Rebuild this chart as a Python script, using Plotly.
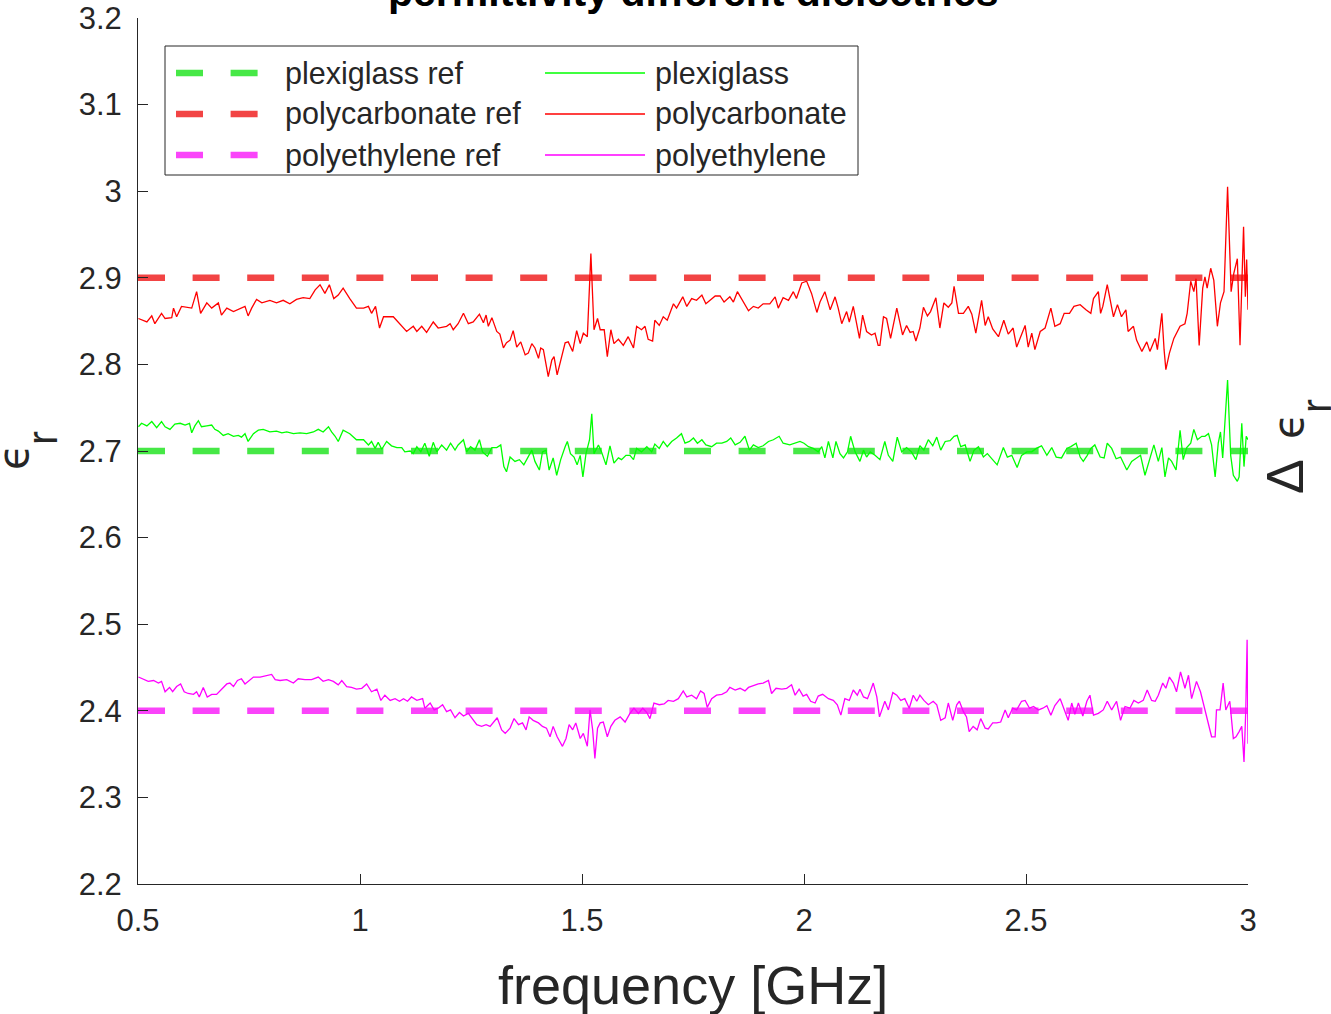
import plotly.graph_objects as go

# ---------------- data ----------------
freq_polycarbonate = [
    0.501, 0.520, 0.531, 0.538, 0.553, 0.561, 0.576, 0.580, 0.587, 0.598, 0.621, 0.632, 0.641, 0.655, 0.666,
    0.681, 0.688, 0.700, 0.715, 0.730, 0.741, 0.748, 0.756, 0.767, 0.779, 0.797, 0.812, 0.827, 0.842, 0.857,
    0.872, 0.887, 0.899, 0.910, 0.921, 0.931, 0.941, 0.951, 0.962, 0.977, 0.992, 1.008, 1.019, 1.026, 1.035,
    1.044, 1.053, 1.075, 1.090, 1.105, 1.120, 1.128, 1.139, 1.150, 1.165, 1.176, 1.195, 1.203, 1.210, 1.221,
    1.233, 1.244, 1.255, 1.269, 1.278, 1.284, 1.289, 1.297, 1.308, 1.315, 1.323, 1.330, 1.338,
    1.345, 1.353, 1.362, 1.372, 1.379, 1.387, 1.394, 1.402, 1.407, 1.413, 1.424, 1.432, 1.437, 1.444, 1.452,
    1.462, 1.469, 1.479, 1.488, 1.496, 1.503, 1.512, 1.520, 1.523, 1.527, 1.535, 1.541, 1.550, 1.557, 1.565,
    1.572, 1.582, 1.593, 1.604, 1.616, 1.623, 1.634, 1.642, 1.649, 1.659, 1.664, 1.674, 1.683, 1.692, 1.706,
    1.713, 1.727, 1.736, 1.747, 1.758, 1.770, 1.779, 1.788, 1.800, 1.811, 1.820, 1.833, 1.841, 1.850, 1.862,
    1.875, 1.886, 1.897, 1.908, 1.923, 1.935, 1.942, 1.953, 1.965, 1.976, 1.983, 1.995, 2.006, 2.017, 2.029,
    2.036, 2.047, 2.059, 2.070, 2.077, 2.085, 2.096, 2.102, 2.111, 2.125, 2.132, 2.141, 2.152, 2.160, 2.167,
    2.171, 2.179, 2.186, 2.195, 2.209, 2.222, 2.231, 2.239, 2.246, 2.252, 2.261, 2.269, 2.278, 2.285, 2.297,
    2.306, 2.315, 2.325, 2.333, 2.338, 2.348, 2.359, 2.370, 2.378, 2.387, 2.400, 2.408, 2.415, 2.425, 2.438,
    2.450, 2.460, 2.471, 2.479, 2.486, 2.498, 2.505, 2.513, 2.520, 2.532, 2.543, 2.556, 2.565, 2.577, 2.586,
    2.598, 2.608, 2.622, 2.635, 2.646, 2.652, 2.663, 2.668, 2.673, 2.683, 2.697, 2.706, 2.715, 2.725, 2.730,
    2.742, 2.749, 2.761, 2.772, 2.779, 2.791, 2.796, 2.806, 2.811, 2.815, 2.823, 2.833, 2.847, 2.858, 2.863,
    2.871, 2.878, 2.883, 2.890, 2.898, 2.903, 2.908, 2.916, 2.923, 2.931, 2.938, 2.946, 2.954, 2.962, 2.968,
    2.976, 2.982, 2.990, 2.994, 2.997, 3.000,
]
eps_polycarbonate = [
    2.853, 2.849, 2.856, 2.847, 2.859, 2.853, 2.854, 2.865, 2.855, 2.867, 2.865, 2.884, 2.859, 2.871, 2.865,
    2.871, 2.857, 2.865, 2.861, 2.864, 2.867, 2.856, 2.865, 2.875, 2.871, 2.874, 2.871, 2.874, 2.870, 2.875,
    2.877, 2.876, 2.886, 2.892, 2.882, 2.892, 2.876, 2.880, 2.888, 2.876, 2.865, 2.865, 2.867, 2.859, 2.867,
    2.842, 2.855, 2.855, 2.847, 2.838, 2.844, 2.838, 2.844, 2.837, 2.849, 2.842, 2.844, 2.847, 2.840, 2.847,
    2.859, 2.847, 2.849, 2.858, 2.848, 2.857, 2.844, 2.854, 2.838, 2.835, 2.819, 2.825, 2.828,
    2.839, 2.820, 2.826, 2.811, 2.813, 2.824, 2.819, 2.807, 2.819, 2.817, 2.786, 2.805, 2.809, 2.788, 2.803,
    2.825, 2.826, 2.815, 2.839, 2.824, 2.836, 2.832, 2.928, 2.897, 2.840, 2.853, 2.840, 2.840, 2.809, 2.840,
    2.824, 2.829, 2.822, 2.832, 2.819, 2.844, 2.840, 2.844, 2.829, 2.827, 2.851, 2.845, 2.855, 2.851, 2.870,
    2.865, 2.878, 2.867, 2.876, 2.874, 2.880, 2.870, 2.874, 2.879, 2.879, 2.872, 2.878, 2.872, 2.884, 2.874,
    2.862, 2.867, 2.865, 2.870, 2.870, 2.878, 2.865, 2.877, 2.874, 2.884, 2.876, 2.894, 2.896, 2.882, 2.860,
    2.872, 2.884, 2.863, 2.878, 2.865, 2.847, 2.861, 2.849, 2.867, 2.830, 2.857, 2.838, 2.834, 2.836, 2.822,
    2.822, 2.855, 2.853, 2.830, 2.865, 2.834, 2.845, 2.837, 2.838, 2.827, 2.842, 2.866, 2.856, 2.861, 2.877,
    2.842, 2.871, 2.866, 2.871, 2.890, 2.859, 2.859, 2.867, 2.858, 2.836, 2.874, 2.845, 2.855, 2.841, 2.832,
    2.851, 2.835, 2.842, 2.820, 2.830, 2.845, 2.820, 2.836, 2.817, 2.838, 2.842, 2.865, 2.844, 2.847, 2.859,
    2.859, 2.867, 2.869, 2.863, 2.859, 2.876, 2.884, 2.859, 2.867, 2.892, 2.855, 2.869, 2.855, 2.863, 2.838,
    2.844, 2.828, 2.815, 2.826, 2.815, 2.830, 2.817, 2.859, 2.817, 2.794, 2.813, 2.830, 2.844, 2.847, 2.859,
    2.896, 2.884, 2.899, 2.822, 2.888, 2.901, 2.888, 2.911, 2.897, 2.844, 2.871, 2.884, 3.005, 2.884, 2.905,
    2.922, 2.822, 2.959, 2.878, 2.921, 2.863,
]

freq_plexiglass = [
    0.501, 0.508, 0.520, 0.531, 0.542, 0.553, 0.561, 0.572, 0.583, 0.595, 0.606, 0.616, 0.621, 0.628, 0.636,
    0.643, 0.655, 0.666, 0.673, 0.681, 0.692, 0.703, 0.715, 0.726, 0.733, 0.741, 0.748, 0.760, 0.771, 0.782,
    0.797, 0.812, 0.824, 0.835, 0.850, 0.865, 0.880, 0.895, 0.906, 0.917, 0.929, 0.936, 0.944, 0.951, 0.962,
    0.977, 0.992, 1.008, 1.019, 1.026, 1.034, 1.041, 1.049, 1.060, 1.071, 1.083, 1.094, 1.101, 1.113, 1.120,
    1.128, 1.137, 1.146, 1.156, 1.165, 1.173, 1.184, 1.195, 1.204, 1.214, 1.221, 1.233, 1.240, 1.249, 1.259,
    1.269, 1.276, 1.287, 1.297, 1.308, 1.317, 1.324, 1.330, 1.338,
    1.349, 1.359, 1.369, 1.379, 1.387, 1.394, 1.404, 1.411, 1.419, 1.426, 1.435, 1.443, 1.452, 1.462, 1.467,
    1.474, 1.482, 1.489, 1.496, 1.502, 1.509, 1.517, 1.522, 1.527, 1.537, 1.544, 1.554, 1.563, 1.572, 1.582,
    1.589, 1.599, 1.608, 1.616, 1.623, 1.634, 1.646, 1.657, 1.664, 1.674, 1.683, 1.692, 1.702, 1.713, 1.724,
    1.732, 1.742, 1.751, 1.760, 1.770, 1.779, 1.792, 1.803, 1.815, 1.826, 1.835, 1.845, 1.856, 1.867, 1.877,
    1.886, 1.897, 1.908, 1.920, 1.931, 1.944, 1.953, 1.968, 1.980, 1.991, 2.000, 2.010, 2.021, 2.032, 2.040,
    2.047, 2.055, 2.065, 2.072, 2.081, 2.089, 2.098, 2.105, 2.115, 2.126, 2.134, 2.141, 2.149, 2.160, 2.167,
    2.171, 2.182, 2.190, 2.200, 2.210, 2.220, 2.231, 2.242, 2.252, 2.261, 2.270, 2.280, 2.290, 2.299, 2.308,
    2.318, 2.329, 2.338, 2.345, 2.353, 2.363, 2.374, 2.383, 2.393, 2.404, 2.413, 2.425, 2.435, 2.449, 2.458,
    2.468, 2.480, 2.490, 2.502, 2.513, 2.523, 2.535, 2.547, 2.558, 2.568, 2.580, 2.592, 2.601, 2.613, 2.622,
    2.629, 2.638, 2.646, 2.655, 2.667, 2.676, 2.683, 2.693, 2.703, 2.713, 2.727, 2.738, 2.749, 2.758, 2.768,
    2.779, 2.788, 2.798, 2.806, 2.813, 2.821, 2.828, 2.838, 2.847, 2.854, 2.862, 2.871, 2.878, 2.886, 2.896,
    2.903, 2.911, 2.918, 2.926, 2.933, 2.938, 2.943, 2.954, 2.961, 2.967, 2.976, 2.980, 2.986, 2.991, 2.996,
    3.000,
]
eps_plexiglass = [
    2.728, 2.732, 2.729, 2.734, 2.727, 2.734, 2.728, 2.725, 2.731, 2.732, 2.730, 2.732, 2.721, 2.729, 2.735,
    2.728, 2.729, 2.730, 2.725, 2.723, 2.718, 2.720, 2.717, 2.718, 2.716, 2.720, 2.711, 2.720, 2.724, 2.725,
    2.722, 2.723, 2.721, 2.722, 2.720, 2.721, 2.720, 2.722, 2.725, 2.722, 2.728, 2.722, 2.717, 2.711, 2.724,
    2.720, 2.713, 2.713, 2.707, 2.711, 2.703, 2.710, 2.702, 2.711, 2.706, 2.704, 2.704, 2.699, 2.700, 2.697,
    2.705, 2.699, 2.709, 2.694, 2.710, 2.699, 2.707, 2.701, 2.709, 2.701, 2.707, 2.713, 2.699, 2.705, 2.701,
    2.713, 2.699, 2.694, 2.704, 2.704, 2.707, 2.682, 2.676, 2.693,
    2.688, 2.690, 2.684, 2.693, 2.701, 2.688, 2.678, 2.699, 2.701, 2.678, 2.692, 2.672, 2.690, 2.705, 2.711,
    2.697, 2.693, 2.684, 2.695, 2.670, 2.697, 2.713, 2.743, 2.697, 2.707, 2.699, 2.684, 2.706, 2.686, 2.692,
    2.690, 2.695, 2.695, 2.690, 2.703, 2.699, 2.705, 2.699, 2.708, 2.703, 2.711, 2.705, 2.711, 2.715, 2.720,
    2.709, 2.711, 2.715, 2.709, 2.713, 2.707, 2.705, 2.709, 2.709, 2.711, 2.715, 2.707, 2.710, 2.717, 2.701,
    2.707, 2.704, 2.706, 2.711, 2.713, 2.717, 2.709, 2.707, 2.709, 2.711, 2.709, 2.705, 2.703, 2.699, 2.705,
    2.692, 2.711, 2.692, 2.711, 2.697, 2.692, 2.699, 2.717, 2.699, 2.688, 2.701, 2.693, 2.699, 2.695, 2.692,
    2.690, 2.711, 2.695, 2.688, 2.716, 2.699, 2.704, 2.699, 2.690, 2.706, 2.701, 2.713, 2.706, 2.716, 2.701,
    2.711, 2.712, 2.717, 2.718, 2.705, 2.707, 2.688, 2.701, 2.705, 2.693, 2.697, 2.690, 2.684, 2.704, 2.693,
    2.695, 2.681, 2.695, 2.699, 2.699, 2.703, 2.706, 2.695, 2.704, 2.693, 2.692, 2.703, 2.705, 2.709, 2.693,
    2.688, 2.695, 2.703, 2.707, 2.693, 2.692, 2.709, 2.703, 2.691, 2.693, 2.678, 2.688, 2.692, 2.695, 2.672,
    2.693, 2.707, 2.688, 2.704, 2.670, 2.692, 2.688, 2.678, 2.724, 2.690, 2.704, 2.709, 2.725, 2.713, 2.717,
    2.717, 2.720, 2.707, 2.670, 2.709, 2.722, 2.692, 2.782, 2.695, 2.672, 2.665, 2.670, 2.732, 2.682, 2.717,
    2.713,
]

freq_polyethylene = [
    0.501, 0.512, 0.523, 0.535, 0.546, 0.553, 0.561, 0.571, 0.578, 0.587, 0.596, 0.604, 0.613, 0.625, 0.632,
    0.638, 0.647, 0.656, 0.666, 0.677, 0.688, 0.700, 0.707, 0.715, 0.724, 0.733, 0.741, 0.751, 0.760, 0.775,
    0.786, 0.801, 0.809, 0.820, 0.835, 0.850, 0.861, 0.876, 0.891, 0.906, 0.917, 0.929, 0.940, 0.951, 0.959,
    0.970, 0.981, 0.992, 1.004, 1.015, 1.026, 1.038, 1.047, 1.056, 1.068, 1.079, 1.089, 1.098, 1.107, 1.116,
    1.128, 1.141, 1.146, 1.158, 1.167, 1.176, 1.186, 1.195, 1.204, 1.214, 1.224, 1.233, 1.244, 1.252, 1.263,
    1.274, 1.284, 1.293, 1.300, 1.309, 1.319, 1.327, 1.338,
    1.347, 1.357, 1.366, 1.374, 1.381, 1.390, 1.402, 1.411, 1.420, 1.428, 1.435, 1.444, 1.456, 1.464, 1.471,
    1.479, 1.486, 1.496, 1.503, 1.512, 1.518, 1.524, 1.529, 1.535, 1.541, 1.548, 1.557, 1.565, 1.574, 1.586,
    1.597, 1.608, 1.617, 1.627, 1.637, 1.646, 1.653, 1.662, 1.674, 1.685, 1.694, 1.706, 1.717, 1.728, 1.736,
    1.747, 1.758, 1.767, 1.775, 1.782, 1.792, 1.803, 1.815, 1.826, 1.833, 1.845, 1.856, 1.867, 1.875, 1.886,
    1.897, 1.908, 1.920, 1.927, 1.937, 1.950, 1.961, 1.972, 1.980, 1.989, 1.998, 2.006, 2.015, 2.025, 2.032,
    2.042, 2.055, 2.066, 2.075, 2.083, 2.092, 2.102, 2.111, 2.120, 2.126, 2.134, 2.143, 2.149, 2.156, 2.164,
    2.170,
    2.182, 2.190, 2.200, 2.209, 2.218, 2.227, 2.237, 2.246, 2.254, 2.261, 2.270, 2.280, 2.291, 2.299, 2.308,
    2.318, 2.325, 2.335, 2.344, 2.350, 2.359, 2.366, 2.372, 2.381, 2.390, 2.398, 2.408, 2.415, 2.425, 2.434,
    2.443, 2.453, 2.460, 2.470, 2.479, 2.490, 2.498, 2.508, 2.517, 2.528, 2.538, 2.547, 2.556, 2.565, 2.577,
    2.586, 2.595, 2.603, 2.610, 2.618, 2.628, 2.637, 2.644, 2.652, 2.663, 2.674, 2.683, 2.693, 2.704, 2.713,
    2.723, 2.734, 2.743, 2.753, 2.764, 2.773, 2.783, 2.791, 2.798, 2.808, 2.815, 2.823, 2.832, 2.839, 2.848,
    2.858, 2.866, 2.873, 2.884, 2.893, 2.903, 2.911, 2.918, 2.926, 2.929, 2.937, 2.944, 2.950, 2.959, 2.967,
    2.973, 2.980, 2.986, 2.991, 2.995, 2.998, 3.000,
]
eps_polyethylene = [
    2.439, 2.436, 2.434, 2.435, 2.432, 2.434, 2.422, 2.427, 2.422, 2.428, 2.431, 2.422, 2.420, 2.419, 2.422,
    2.416, 2.427, 2.416, 2.419, 2.419, 2.425, 2.431, 2.432, 2.428, 2.435, 2.437, 2.431, 2.435, 2.439, 2.439,
    2.440, 2.442, 2.436, 2.435, 2.436, 2.432, 2.437, 2.436, 2.436, 2.439, 2.434, 2.436, 2.434, 2.430, 2.435,
    2.428, 2.427, 2.425, 2.426, 2.431, 2.422, 2.425, 2.412, 2.418, 2.412, 2.414, 2.411, 2.414, 2.411, 2.416,
    2.412, 2.414, 2.403, 2.409, 2.401, 2.403, 2.407, 2.399, 2.401, 2.392, 2.398, 2.394, 2.397, 2.391, 2.384,
    2.382, 2.384, 2.382, 2.387, 2.392, 2.378, 2.374, 2.380,
    2.391, 2.384, 2.386, 2.378, 2.393, 2.389, 2.386, 2.382, 2.380, 2.370, 2.382, 2.370, 2.359, 2.368, 2.384,
    2.378, 2.386, 2.368, 2.374, 2.359, 2.401, 2.378, 2.345, 2.380, 2.386, 2.387, 2.370, 2.382, 2.389, 2.393,
    2.387, 2.397, 2.403, 2.397, 2.403, 2.398, 2.391, 2.409, 2.407, 2.408, 2.412, 2.411, 2.414, 2.423, 2.416,
    2.418, 2.414, 2.423, 2.420, 2.404, 2.414, 2.418, 2.419, 2.422, 2.427, 2.424, 2.426, 2.423, 2.427, 2.429,
    2.431, 2.432, 2.435, 2.420, 2.426, 2.425, 2.426, 2.430, 2.418, 2.425, 2.417, 2.419, 2.411, 2.409, 2.417,
    2.419, 2.414, 2.412, 2.407, 2.395, 2.414, 2.412, 2.424, 2.418, 2.425, 2.416, 2.414, 2.422, 2.432, 2.416,
    2.393,
    2.411, 2.401, 2.421, 2.418, 2.412, 2.414, 2.403, 2.418, 2.411, 2.418, 2.412, 2.407, 2.411, 2.407, 2.389,
    2.392, 2.409, 2.389, 2.407, 2.411, 2.399, 2.393, 2.376, 2.382, 2.378, 2.391, 2.380, 2.379, 2.386, 2.386,
    2.387, 2.401, 2.392, 2.403, 2.401, 2.411, 2.412, 2.403, 2.405, 2.401, 2.403, 2.406, 2.395, 2.406, 2.414,
    2.401, 2.389, 2.409, 2.396, 2.409, 2.394, 2.411, 2.418, 2.395, 2.397, 2.401, 2.411, 2.401, 2.411, 2.389,
    2.405, 2.403, 2.412, 2.409, 2.412, 2.424, 2.412, 2.411, 2.418, 2.432, 2.426, 2.439, 2.432, 2.422, 2.445,
    2.426, 2.441, 2.414, 2.434, 2.422, 2.401, 2.386, 2.370, 2.370, 2.401, 2.401, 2.432, 2.401, 2.411, 2.368,
    2.370, 2.376, 2.382, 2.341, 2.401, 2.482, 2.362,
]

ref_names = ["plexiglass ref", "polycarbonate ref", "polyethylene ref"]
ref_values = [2.7, 2.9, 2.4]
meas_names = ["plexiglass", "polycarbonate", "polyethylene"]

x_range = [0.5, 3.0]
y_range = [2.2, 3.2]
x_tickvals = [0.5, 1, 1.5, 2, 2.5, 3]
x_ticktext = ["0.5", "1", "1.5", "2", "2.5", "3"]
y_tickvals = [2.2, 2.3, 2.4, 2.5, 2.6, 2.7, 2.8, 2.9, 3.0, 3.1, 3.2]
y_ticktext = ["2.2", "2.3", "2.4", "2.5", "2.6", "2.7", "2.8", "2.9", "3", "3.1", "3.2"]

title_text = "permittivity different dielectrics"
x_title = "frequency [GHz]"
# y-axis labels: "ϵ_r" (left) and "Δ ϵ_r" (right), drawn as separate glyph pieces
y_title_parts = ["ϵ", "r"]
y2_title_parts = ["Δ", "ϵ", "r"]

# ---------------- styling ----------------
W, H = 1331, 1014
ML, MR, MT, MB = 138, 83, 18, 130
PW, PH = W - ML - MR, H - MT - MB
FONT = "Liberation Sans, Arial, Helvetica, sans-serif"
GREEK = "DejaVu Sans, Liberation Sans, sans-serif"
AXC = "#262626"
ref_colors = ["rgb(70,232,70)", "rgb(242,68,68)", "rgb(250,68,250)"]
meas_colors = ["#00ff00", "#ff0000", "#ff00ff"]
DASH = "27px,27.6px"
REF_W = 6.5
MEAS_W = 1.3


def px_x(p):
    return (p - ML) / PW


def px_y(p):
    return (H - MB - p) / PH


meas_x = [freq_plexiglass, freq_polycarbonate, freq_polyethylene]
meas_y = [eps_plexiglass, eps_polycarbonate, eps_polyethylene]

fig = go.Figure()
for name, val, col in zip(ref_names, ref_values, ref_colors):
    fig.add_trace(go.Scatter(x=x_range, y=[val, val], mode="lines", name=name,
                             line=dict(color=col, width=REF_W, dash=DASH),
                             showlegend=False, hoverinfo="skip"))
for name, xs, ys, col in zip(meas_names, meas_x, meas_y, meas_colors):
    fig.add_trace(go.Scatter(x=xs, y=ys, mode="lines", name=name,
                             line=dict(color=col, width=MEAS_W),
                             showlegend=False))

axis_common = dict(showline=True, linecolor=AXC, linewidth=1, ticks="inside", ticklen=10,
                   tickwidth=1, tickcolor=AXC, showgrid=False, zeroline=False, mirror=False,
                   automargin=False, tickfont=dict(family=FONT, size=31, color=AXC))

fig.update_layout(
    width=W, height=H,
    margin=dict(l=ML, r=MR, t=MT, b=MB, pad=0, autoexpand=False),
    paper_bgcolor="white", plot_bgcolor="white",
    font=dict(family=FONT, color=AXC),
    xaxis=dict(range=x_range, tickvals=x_tickvals, ticktext=x_ticktext, ticklabelstandoff=9,
               **axis_common),
    yaxis=dict(range=y_range, tickvals=y_tickvals, ticktext=y_ticktext, ticklabelstandoff=9,
               **axis_common),
    showlegend=False,
)

# ---------------- legend (drawn manually to get long line samples) ----------------
shapes = [dict(type="rect", xref="paper", yref="paper", x0=px_x(165), x1=px_x(858),
               y0=px_y(175), y1=px_y(46), line=dict(color=AXC, width=1), fillcolor="white",
               layer="above")]
annotations = []
row_y = [73, 114, 155]
for i in range(3):
    yy = px_y(row_y[i])
    shapes.append(dict(type="line", xref="paper", yref="paper", x0=px_x(176), x1=px_x(258),
                       y0=yy, y1=yy, line=dict(color=ref_colors[i], width=REF_W, dash=DASH),
                       layer="above"))
    shapes.append(dict(type="line", xref="paper", yref="paper", x0=px_x(545), x1=px_x(645),
                       y0=yy, y1=yy, line=dict(color=meas_colors[i], width=MEAS_W), layer="above"))
    annotations.append(dict(text=ref_names[i], xref="paper", yref="paper", x=px_x(283), y=yy,
                            xanchor="left", yanchor="middle", showarrow=False,
                            font=dict(family=FONT, size=30.5, color=AXC)))
    annotations.append(dict(text=meas_names[i], xref="paper", yref="paper", x=px_x(653), y=yy,
                            xanchor="left", yanchor="middle", showarrow=False,
                            font=dict(family=FONT, size=30.5, color=AXC)))

# titles
annotations.append(dict(text="<b>" + title_text + "</b>", xref="paper", yref="paper",
                        x=0.5, y=1, yanchor="bottom", xanchor="center", yshift=1,
                        showarrow=False, font=dict(family=FONT, size=41, color="black")))
annotations.append(dict(text=x_title, xref="paper", yref="paper", x=0.5, y=0,
                        yanchor="middle", xanchor="center", yshift=-101,
                        showarrow=False, font=dict(family=FONT, size=54, color=AXC)))


def rot_label(text, cx, cy, size, family):
    return dict(text=text, xref="paper", yref="paper", x=px_x(cx), y=px_y(cy),
                xanchor="center", yanchor="middle", textangle=-90, showarrow=False,
                font=dict(family=family, size=size, color=AXC))


# left label  ϵ_r
annotations.append(rot_label(y_title_parts[0], 13, 457, 42, GREEK))
annotations.append(rot_label(y_title_parts[1], 42, 438, 42, FONT))
# right label  Δ ϵ_r
annotations.append(rot_label(y2_title_parts[0], 1285, 477, 52, FONT))
annotations.append(rot_label(y2_title_parts[1], 1288, 426, 42, GREEK))
annotations.append(rot_label(y2_title_parts[2], 1316, 406, 42, FONT))

fig.update_layout(shapes=shapes, annotations=annotations)

fig.write_html("out.html", config={"displayModeBar": False},
               post_script="document.body.style.margin='0';")
